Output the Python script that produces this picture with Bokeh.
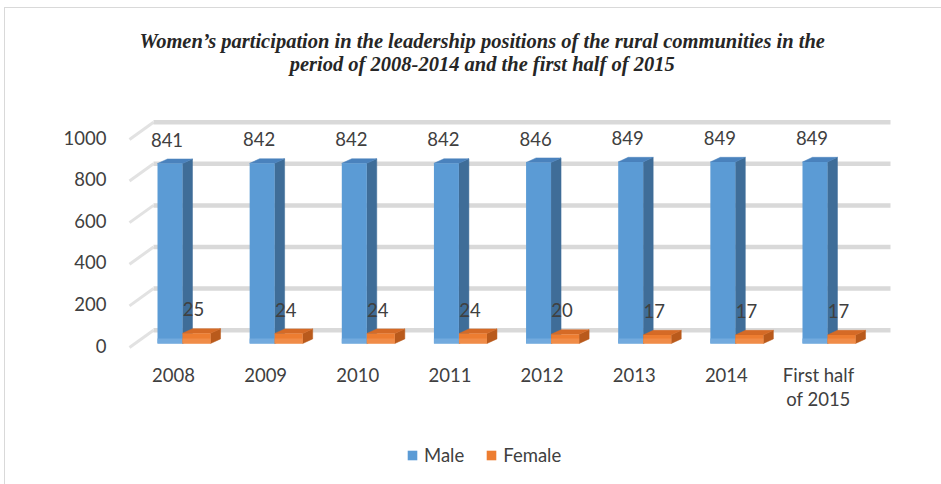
import numpy as np
from bokeh.plotting import figure
from bokeh.models import Range1d, LinearAxis, FixedTicker, Legend, LegendItem, ColumnDataSource
from bokeh.core.properties import value
from bokeh.embed import file_html
from bokeh.resources import INLINE

# ---------------- data ----------------
categories = ["2008", "2009", "2010", "2011", "2012", "2013", "2014", "First half\nof 2015"]
male = [841, 842, 842, 842, 846, 849, 849, 849]
female = [25, 24, 24, 24, 20, 17, 17, 17]
series_names = ["Male", "Female"]
y_ticks = [0, 200, 400, 600, 800, 1000]
y_tick_labels = ["0", "200", "400", "600", "800", "1000"]
title_lines = [
    "Women\u2019s participation in the leadership positions of the rural communities in the",
    "period of 2008-2014 and the first half of 2015",
]

# ---------------- layout / style ----------------
W, H = 941, 484
FL, FR, FT, FB = 116, 941, 0, 484          # frame edges in pixels
C0, STEP = 173.0, 92.14                    # pixel of first category, category step
Y0, K = 338.0, 0.208                       # pixel of value 0 on bar fronts, px per unit
AX0 = 345.0                                # pixel of value 0 for the axis labels
FONT = "Lato"
TXT = "#404040"
FS = "18.5px"

x_range = Range1d((FL - C0) / STEP, (FR - C0) / STEP)
y_range = Range1d(-(FB - Y0) / K, (Y0 - FT) / K)

p = figure(width=W, height=H, x_range=x_range, y_range=y_range,
           output_backend="svg", toolbar_location=None,
           y_axis_location=None, x_axis_location=None,
           min_border_left=FL, min_border_right=0, min_border_top=0,
           min_border_bottom=0)
p.extra_y_ranges = {"ax": Range1d(-(FB - AX0) / K, (AX0 - FT) / K)}
p.outline_line_color = None
p.xgrid.visible = False
p.ygrid.visible = False
p.background_fill_color = None
p.border_fill_color = None
# light chart-area border (left and top edges) drawn behind the transparent canvas
p.styles = {
    "background": "linear-gradient(#d9d9d9, #d9d9d9) 4px 7px / 1px 100% no-repeat, "
                  "linear-gradient(#d9d9d9, #d9d9d9) 4px 7px / 100% 1px no-repeat, white"
}

# y axis (real axis on the left)
yax = LinearAxis(y_range_name="ax", ticker=FixedTicker(ticks=y_ticks),
                 major_label_overrides={t: l for t, l in zip(y_ticks, y_tick_labels)})
yax.axis_line_color = None
yax.major_tick_line_color = None
yax.minor_tick_line_color = None
yax.major_label_standoff = 4
yax.major_label_text_font = FONT
yax.major_label_text_font_size = FS
yax.major_label_text_color = TXT
p.add_layout(yax, "left")

# ---------------- walls (3D look) ----------------
yt = np.array(y_ticks, dtype=float)
back_off = 40.0     # back wall offset (units)
front_off = -43.0   # side wall front edge offset (units)
bx0 = (153 - C0) / STEP
bx1 = (890 - C0) / STEP
sx0 = (129 - C0) / STEP
p.segment(x0=np.full_like(yt, sx0), y0=yt + front_off, x1=np.full_like(yt, bx0), y1=yt + back_off,
          line_color="#e2e2e2", line_width=3)
p.segment(x0=np.full_like(yt, bx0), y0=yt + back_off, x1=np.full_like(yt, bx1), y1=yt + back_off,
          line_color="#d9d9d9", line_width=4.5)

# ---------------- bars ----------------
xi = np.arange(len(categories), dtype=float)
dx = 10.0 / STEP
dy = 4.6 / K
floor = -5.0 / K


def draw_series(vals, off, w, c_front, c_side, c_top, c_base):
    v = np.array(vals, dtype=float)
    xc = xi + off
    xl = xc - w / 2
    xr = xc + w / 2
    side_xs = [[r, r + dx, r + dx, r] for r in xr]
    side_ys = [[floor, floor + dy, t + dy, t] for t in v]
    top_xs = [[l, l + dx, r + dx, r] for l, r in zip(xl, xr)]
    top_ys = [[t, t + dy, t + dy, t] for t in v]
    p.patches(side_xs, side_ys, fill_color=c_side, line_color=c_side, line_width=0.5)
    p.patches(top_xs, top_ys, fill_color=c_top, line_color=c_top, line_width=0.5)
    src = ColumnDataSource(dict(x=xc, top=v, bottom=np.full_like(v, floor),
                                zero=np.zeros_like(v),
                                label=[str(int(a)) for a in vals]))
    r = p.vbar(x="x", top="top", bottom="bottom", width=w, source=src,
               fill_color=c_front, line_color=None)
    # slightly lighter base strip where the bar meets the floor
    p.vbar(x="x", top="zero", bottom="bottom", width=w, source=src,
           fill_color=c_base, line_color=None)
    p.text(x="x", y="top", text="label", source=src, text_align="center",
           text_baseline="alphabetic", x_offset=-3, y_offset=-24,
           text_font=value(FONT), text_font_size=FS, text_color=TXT)
    return r


r_m = draw_series(male, -0.038, 0.271, "#5b9bd5", "#3f6d98", "#4a82bd", "#72aade")
r_f = draw_series(female, 0.25, 0.304, "#ed7d31", "#b95a1c", "#d56a26", "#f08c48")

# ---------------- category labels ----------------
cat_base = (Y0 - 374.0) / K
cat_step = 24.5 / K
cx, cy, ct = [], [], []
for i, c in enumerate(categories):
    for j, line in enumerate(c.split("\n")):
        cx.append(float(i))
        cy.append(cat_base - j * cat_step)
        ct.append(line)
p.text(x=cx, y=cy, text=ct, text_align="center", text_baseline="alphabetic",
       text_font=value(FONT), text_font_size=FS, text_color=TXT)

# ---------------- title ----------------
tcx = (481.7 - C0) / STEP
ty0 = (Y0 - 40.0) / K
tstep = 23.5 / K
tsrc = ColumnDataSource(dict(x=[tcx] * len(title_lines),
                             y=[ty0 - i * tstep for i in range(len(title_lines))],
                             t=title_lines))
p.text(x="x", y="y", text="t", source=tsrc, text_align="center", text_baseline="alphabetic",
       text_font=value("Liberation Serif"), text_font_style="bold italic",
       text_font_size="20.5px", text_color="#262626")

# ---------------- legend ----------------
legend = Legend(items=[LegendItem(label=series_names[0], renderers=[r_m]),
                       LegendItem(label=series_names[1], renderers=[r_f])],
                orientation="horizontal", location=(290, 18),
                glyph_width=12, glyph_height=12, label_height=20, label_standoff=6, spacing=21,
                label_text_font=FONT, label_text_font_size=FS, label_text_color=TXT,
                border_line_alpha=0, background_fill_alpha=0, padding=0, margin=0)
p.add_layout(legend)

open("out.html", "w").write(file_html(p, INLINE))
